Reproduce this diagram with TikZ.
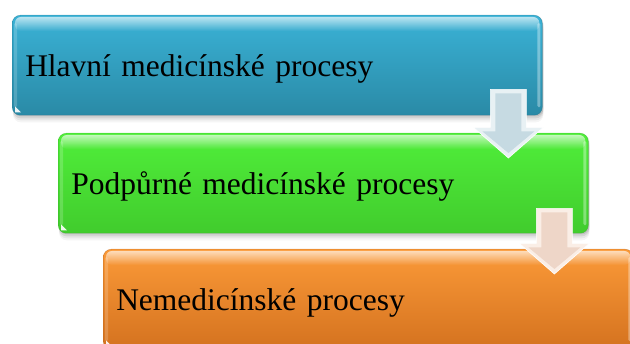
\documentclass[tikz,border=0pt]{standalone}
\usepackage{fontspec}
\setmainfont{Liberation Serif}
\usetikzlibrary{calc,fadings}

\definecolor{blueTop}{HTML}{3AB2D6}
\definecolor{blueBot}{HTML}{2A8AA6}
\definecolor{greenTop}{HTML}{50EE3A}
\definecolor{greenBot}{HTML}{41CC2D}
\definecolor{orangeTop}{HTML}{FB9A38}
\definecolor{orangeBot}{HTML}{D4721F}
\definecolor{arrowBlueIn}{HTML}{C6DAE2}
\definecolor{arrowBlueOut}{HTML}{E8F1F4}
\definecolor{arrowPeachIn}{HTML}{EED6C8}
\definecolor{arrowPeachOut}{HTML}{FAEEE6}

\tikzfading[name=glossfade, top color=transparent!35, bottom color=transparent!100]

\tikzset{
  procbox/.style={rectangle, rounded corners=8pt, minimum width=530pt,
    minimum height=100pt, text width=504pt, align=left, inner xsep=13pt,
    inner ysep=0pt, text height=23pt, text depth=0pt, anchor=north west,
    font=\fontsize{31.5}{38}\selectfont},
  bluebox/.style={procbox, top color=blueTop, bottom color=blueBot, draw=blueBot!85!black, draw opacity=0.5, line width=0.5pt},
  greenbox/.style={procbox, top color=greenTop, bottom color=greenBot, draw=greenBot!85!black, draw opacity=0.5, line width=0.5pt},
  orangebox/.style={procbox, top color=orangeTop, bottom color=orangeBot, draw=orangeBot!85!black, draw opacity=0.5, line width=0.5pt},
}

% soft drop shadow under a box
\newcommand\boxshadow[1]{%
  \foreach \d/\o in {1/0.10,3/0.08,5/0.06,7/0.04}{
    \fill[black, opacity=\o, rounded corners=8pt]
      ($(#1.north west)+(1,\d)$) rectangle ($(#1.south east)+(1,\d)$);
  }}
% glossy highlights on top of a box
\newcommand\boxgloss[1]{%
  \fill[white, path fading=glossfade, rounded corners=6pt]
    ($(#1.north west)+(3,2)$) rectangle ($(#1.north east)+(-3,16)$);
  \fill[white, opacity=0.35, rounded corners=1.5pt]
    ($(#1.north east)+(-5,8)$) rectangle ($(#1.south east)+(-2,-8)$);
  \fill[white, opacity=0.18, rounded corners=1.5pt]
    ($(#1.north west)+(2,8)$) rectangle ($(#1.south west)+(5,-8)$);
  \fill[white, opacity=0.9]
    ($(#1.south west)+(3,-3)$) -- ($(#1.south west)+(9,-3)$) -- ($(#1.south west)+(3,-9)$) -- cycle;}
% downward block arrow: shaft top, head base level, tip level, rim colour, face colour
\newcommand\blockarrow[5]{%
  \path let \p1=(#1), \p2=(#2), \p3=(#3) in
    coordinate (st) at (\x1,\y1) coordinate (hb) at (\x1,\y2) coordinate (tp) at (\x1,\y3);
  \fill[#4, draw=white, line width=0.6pt, line join=miter]
    ($(st)+(-18,0)$) -- ($(st)+(18,0)$) -- ($(hb)+(18,0)$) -- ($(hb)+(35,0)$)
    -- (tp) -- ($(hb)+(-35,0)$) -- ($(hb)+(-18,0)$) -- cycle;
  \fill[#5]
    ($(st)+(-13,4)$) -- ($(st)+(13,4)$) -- ($(hb)+(13,4)$) -- ($(hb)+(26,4)$)
    -- ($(tp)+(0,-5)$) -- ($(hb)+(-26,4)$) -- ($(hb)+(-13,4)$) -- cycle;}

\begin{document}
\begin{tikzpicture}[x=1pt, y=-1pt]
  \useasboundingbox (0,0) rectangle (630,344);
  \clip (0,0) rectangle (630,344);

  % box frames (positions only)
  \node[procbox] (b1) at (12,15) {};
  \node[procbox] (b2) at (58,133) {};
  \node[procbox] (b3) at (103,249) {};

  % shadows, boxes and highlights, back to front
  \boxshadow{b1}
  \node[bluebox] at (b1.north west) {Hlavní medicínské procesy};
  \boxgloss{b1}
  \boxshadow{b2}
  \node[greenbox] at (b2.north west) {Podpůrné medicínské procesy};
  \boxgloss{b2}
  \boxshadow{b3}
  \node[orangebox] at (b3.north west) {Nemedicínské procesy};
  \boxgloss{b3}

  % arrows between the boxes
  \coordinate (a1s) at ($(b1.south east)+(-34,-26)$);
  \coordinate (a1h) at ($(b1.south east)+(0,12)$);
  \coordinate (a1t) at ($(b2.north)+(0,25)$);
  \blockarrow{a1s}{a1h}{a1t}{arrowBlueOut}{arrowBlueIn}

  \coordinate (a2s) at ($(b2.south east)+(-34,-25)$);
  \coordinate (a2h) at ($(b2.south east)+(0,10)$);
  \coordinate (a2t) at ($(b3.north)+(0,25)$);
  \blockarrow{a2s}{a2h}{a2t}{arrowPeachOut}{arrowPeachIn}
\end{tikzpicture}
\end{document}
